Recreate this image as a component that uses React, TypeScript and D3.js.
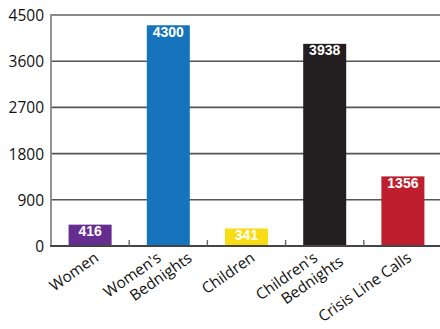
import React from "react";
import * as d3 from "d3";

const categories: string[][] = [
  ["Women"],
  ["Women's", "Bednights"],
  ["Children"],
  ["Children's", "Bednights"],
  ["Crisis Line Calls"],
];
const values: number[] = [416, 4300, 341, 3938, 1356];
const barColors: string[] = ["#662d91", "#1574bb", "#fadc14", "#231f20", "#be1e2d"];
const yTicks: number[] = [0, 900, 1800, 2700, 3600, 4500];

// layout (not data): shift of second label line along the rotated baseline
const secondLineShift: number[] = [0, 25, 0, 19, 0];

const W = 440;
const H = 329;
const left = 51;
const right = 442;
const top = 15;
const bottom = 246;

export default function App() {
  const x = d3
    .scaleBand<number>()
    .domain(values.map((_, i) => i))
    .range([left, right])
    .paddingInner(0.45)
    .paddingOuter(0.225);
  const y = d3.scaleLinear().domain([0, 4500]).range([bottom, top]);
  const bw = x.bandwidth();
  const step = x.step();

  return (
    <svg
      width={W}
      height={H}
      style={{ position: "absolute", left: 0, top: 0, background: "#fff" }}
    >
      {yTicks
        .filter((t) => t > 0 && t < 4500)
        .map((t) => (
          <line
            key={"g" + t}
            x1={left}
            x2={W}
            y1={y(t)}
            y2={y(t)}
            stroke="#555"
            strokeWidth={1.6}
          />
        ))}
      <line x1={left} x2={W} y1={y(4500)} y2={y(4500)} stroke="#888" strokeWidth={1.8} />
      <line x1={left} x2={left} y1={y(4500) - 0.9} y2={bottom} stroke="#888" strokeWidth={1.8} />

      {values.map((v, i) => (
        <rect
          key={"b" + i}
          x={x(i)}
          y={y(v)}
          width={bw}
          height={bottom - y(v)}
          fill={barColors[i]}
        />
      ))}

      {values.map((v, i) => (
        <text
          key={"v" + i}
          x={(x(i) as number) + bw / 2}
          y={y(v) + 11.5}
          textAnchor="middle"
          fill="#fff"
          fontFamily="'Liberation Sans', Arial, sans-serif"
          fontWeight="bold"
          fontSize={14}
        >
          {v}
        </text>
      ))}

      <line x1={left - 0.9} x2={W} y1={bottom} y2={bottom} stroke="#444" strokeWidth={1.8} />
      {values.slice(1).map((_, i) => {
        const tx = (x(i + 1) as number) - (step - bw) / 2;
        return (
          <line
            key={"t" + i}
            x1={tx}
            x2={tx}
            y1={bottom}
            y2={bottom - 6}
            stroke="#666"
            strokeWidth={1.4}
          />
        );
      })}

      {yTicks.map((t) => (
        <text
          key={"y" + t}
          x={44}
          y={y(t) + 6}
          textAnchor="end"
          fontFamily="'Open Sans', sans-serif"
          fontSize={15.5}
          fill="#111"
        >
          {t}
        </text>
      ))}

      {categories.map((lines, i) => {
        const cx = (x(i) as number) + bw / 2;
        const ax = lines.length === 1 ? cx + 9.5 : cx - 6;
        const ay = 260;
        return (
          <g key={"c" + i} transform={`translate(${ax},${ay}) rotate(-35)`}>
            {lines.map((ln, j) => (
              <text
                key={j}
                x={j * secondLineShift[i]}
                y={j * 18}
                textAnchor="end"
                fontFamily="'Open Sans', sans-serif"
                fontSize={15.3}
                fill="#111"
              >
                {ln}
              </text>
            ))}
          </g>
        );
      })}
    </svg>
  );
}
